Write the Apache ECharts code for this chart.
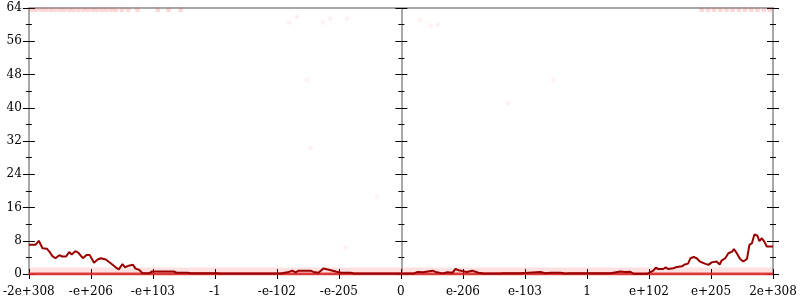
<!DOCTYPE html>
<html><head><meta charset="utf-8">
<script src="https://cdn.jsdelivr.net/npm/echarts@6/dist/echarts.min.js"></script>
<style>html,body{margin:0;padding:0;background:#fff}#c{width:800px;height:300px}</style>
</head><body><div id="c"></div>
<script>
// tick labels of the (sign-log) x scale, one per unit position 0..12
const xTickLabels = ['-2e+308','-e+206','-e+103','-1','-e-102','-e-205','0','e-206','e-103','1','e+102','e+205','2e+308'];
const yTicks = [0,8,16,24,32,40,48,56,64];

// running average line (x in tick-position units, y value)
const lineX = [0.00,0.11,0.16,0.22,0.29,0.33,0.38,0.43,0.49,0.54,0.60,0.65,0.69,0.75,0.80,0.87,0.93,0.98,1.05,1.11,1.16,1.24,1.32,1.40,1.45,1.51,1.55,1.61,1.68,1.72,1.78,1.83,1.94,1.99,2.10,2.34,2.38,2.56,2.61,3.04,3.09,4.06,4.17,4.25,4.30,4.35,4.54,4.59,4.67,4.75,4.82,4.90,4.95,5.03,5.19,5.24,6.20,6.27,6.36,6.43,6.51,6.56,6.67,6.75,6.83,6.88,6.93,6.99,7.06,7.15,7.25,7.33,7.60,7.64,7.93,7.96,8.25,8.33,8.41,8.57,8.65,8.73,9.38,9.54,9.62,9.70,9.75,9.97,9.99,10.07,10.11,10.15,10.23,10.27,10.31,10.39,10.45,10.53,10.58,10.63,10.67,10.72,10.77,10.82,10.90,10.96,11.01,11.09,11.14,11.17,11.23,11.28,11.34,11.37,11.42,11.47,11.52,11.58,11.62,11.66,11.70,11.75,11.78,11.82,11.86,11.90,12.00];
const lineY = [7.05,7.05,8.0,6.2,6.1,5.4,4.3,3.8,4.5,4.2,4.2,5.3,4.7,5.5,5.1,3.8,4.6,4.6,2.7,3.5,3.8,3.5,2.6,1.6,1.1,2.4,1.6,2.0,2.2,1.3,1.0,0.2,0.2,0.6,0.6,0.6,0.3,0.3,0.2,0.2,0.1,0.1,0.4,0.8,0.4,0.8,0.8,0.5,0.3,1.3,1.1,0.8,0.6,0.3,0.3,0.1,0.1,0.5,0.4,0.6,0.8,0.5,0.15,0.4,0.3,1.2,0.9,0.7,0.5,0.8,0.3,0.1,0.1,0.2,0.2,0.5,0.5,0.2,0.3,0.3,0.1,0.2,0.2,0.6,0.5,0.55,0.05,0.05,0.5,0.8,1.5,1.2,1.2,1.6,1.2,1.4,1.7,1.85,2.3,2.5,3.8,4.1,3.8,3.0,2.5,2.2,2.8,3.0,2.3,3.2,3.8,5.0,5.4,6.0,4.9,3.6,3.0,3.6,7.0,7.4,9.5,9.2,7.9,8.6,7.8,6.6,6.6];

// samples piled at the top value (64)
const topX = [0.05,0.12,0.2,0.27,0.35,0.42,0.5,0.57,0.65,0.72,0.8,0.88,0.95,1.03,1.1,1.18,1.25,1.33,1.4,1.5,1.6,1.75,2.08,2.25,2.45,10.85,10.95,11.05,11.15,11.25,11.35,11.45,11.55,11.65,11.75,11.85,11.95];
const topY = 63.6;
// isolated faint samples
const strayX = [4.20,4.32,4.48,4.74,4.86,5.13,6.31,6.48,6.59,8.46,7.73,4.54,5.61,5.11];
const strayY = [60.5,61.9,46.7,60.5,61.5,61.4,61.1,59.7,60.0,46.7,41.1,30.3,18.5,6.3];
// dense sample band near zero: [xStart, xEnd] and levels
const bandRange = [0, 12];
const bandZero = 0;
const bandFaint = 0.7;

const font = 'DejaVu Serif';
const gray = '#a8a8a8';
function yAx(pos, offset, inside, showLabel, showLine){
  return {type:'value', min:0, max:64, interval:8, position:pos, offset:offset,
    axisLine:{show:showLine, onZero:false, lineStyle:{color:gray, width:2}},
    axisTick:{show:true, inside:inside, length:6, lineStyle:{color:'#000', width:1}},
    minorTick:{show:true, splitNumber:2, length:3, lineStyle:{color:'#000', width:1}},
    splitLine:{show:false},
    axisLabel:{show:showLabel, margin:7, fontFamily:font, fontSize:12, color:'#000',
      formatter:v=> yTicks.includes(v) ? String(v) : ''}
  };
}
function xAx(pos, inside, showLabel, showTick){
  return {type:'value', min:0, max:12, interval:1, position:pos,
    axisLine:{show:true, onZero:false, lineStyle:{color:gray, width:2}},
    axisTick:{show:showTick, inside:inside, length:5, lineStyle:{color:'#000', width:1}},
    splitLine:{show:false},
    axisLabel:{show:showLabel, margin:12, fontFamily:font, fontSize:12, color:'#000',
      formatter:v=> xTickLabels[Math.round(v)] ?? ''}
  };
}
const chart = echarts.init(document.getElementById('c'), null, {renderer:'canvas'});
chart.setOption({
  animation:false,
  grid:{left:28, right:27, top:8, bottom:26},
  xAxis:[xAx('bottom', false, true, true), xAx('bottom', true, false, true), xAx('top', false, false, false)],
  yAxis:[
    yAx('left', 0, false, true, true), yAx('left', 0, true, false, false),
    yAx('right', 0, false, false, true), yAx('right', 0, true, false, false),
    yAx('left', -372.5, false, false, true), yAx('left', -372.5, true, false, false)
  ],
  series:[
    {type:'line', data:bandRange.map(x=>[x,bandFaint]), symbol:'none', silent:true,
      lineStyle:{color:'rgba(240,70,70,0.16)', width:7}},
    {type:'line', data:bandRange.map(x=>[x,bandZero]), symbol:'none', silent:true,
      lineStyle:{color:'rgba(228,40,40,0.85)', width:3}},
    {type:'scatter', data:topX.map(x=>[x,topY]), symbolSize:5,
      itemStyle:{color:'rgba(235,60,60,0.25)'}},
    {type:'scatter', data:strayX.map((x,i)=>[x,strayY[i]]), symbolSize:5,
      itemStyle:{color:'rgba(235,60,60,0.08)'}},
    {type:'line', data:lineX.map((x,i)=>[x,lineY[i]]), symbol:'none',
      lineStyle:{color:'#990000', width:2}}
  ]
});
</script></body></html>
